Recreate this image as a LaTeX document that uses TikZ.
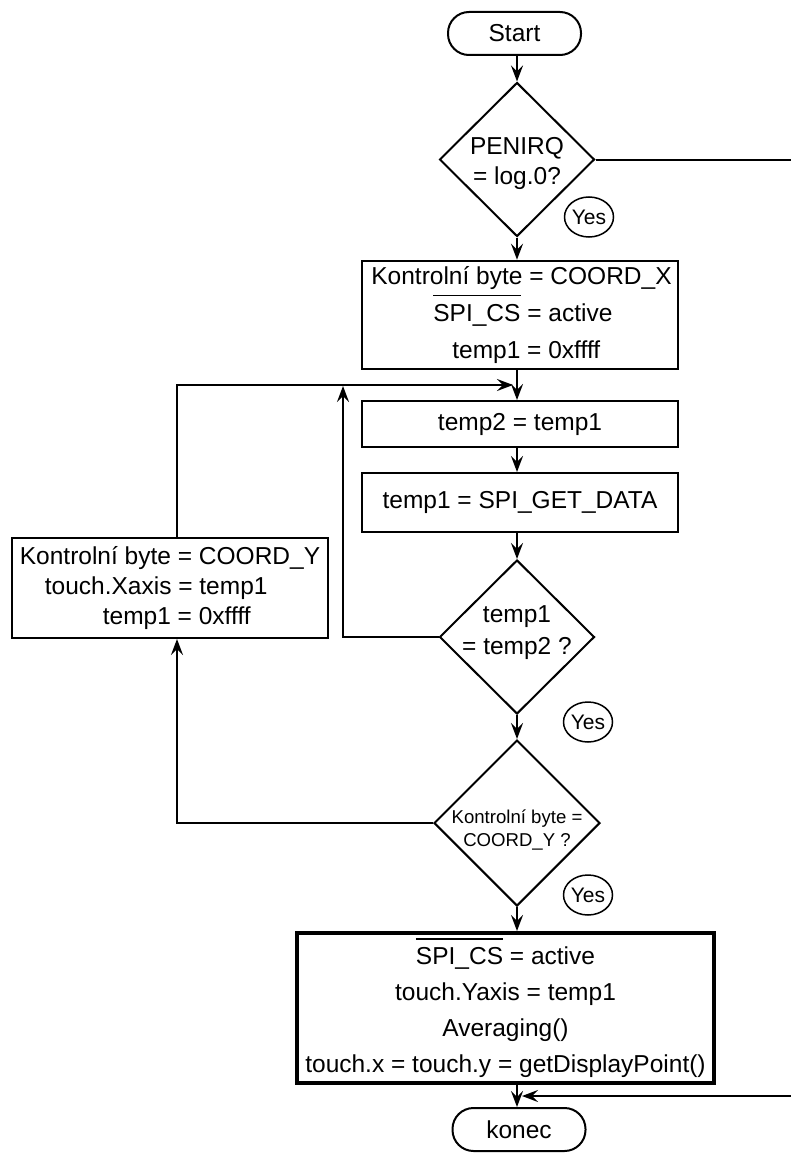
\documentclass[tikz,border=0pt]{standalone}
\usepackage{fontspec}
\setmainfont{Liberation Sans}
\usetikzlibrary{shapes.geometric,arrows.meta}
\newcommand\ovl[1]{\leavevmode\vbox{\hrule height 1.6pt \kern 8pt \hbox{#1}}}
\begin{document}
\begin{tikzpicture}[x=1pt,y=-1pt,
  every node/.style={font=\fontsize{24.5}{29.4}\selectfont, inner sep=0pt},
  ln/.style={line width=2pt},
  arr/.style={line width=2pt,-{Stealth[length=16pt,width=12pt,inset=6pt]}},
  proc/.style={draw,line width=2pt,rectangle,minimum width=316pt,align=left},
  dec/.style={draw,line width=2pt,shape=diamond,minimum width=155pt,minimum height=154pt},
  term/.style={draw,line width=2pt,rounded corners=21pt,minimum width=133pt,minimum height=43pt},
  yes/.style={draw,line width=1.5pt,ellipse,minimum width=49pt,minimum height=40pt,font=\fontsize{21}{24}\selectfont}
]
\useasboundingbox (0,0) rectangle (791,1153);
\coordinate (col) at (517,0);

\node[term] (start) at (514.5,33.5) {Start};
\node[dec,label={[yshift=-4pt,align=center,font=\fontsize{24.5}{30}\selectfont]center:PENIRQ\\= log.0?}] (d1) at (517,159.5) {};
\node[yes] (y1) at (589,217) {Yes};

\node[proc,line width=2.6pt,minimum height=108pt,font=\fontsize{24.5}{37}\selectfont] (b1) at (520,315)
  {\hspace*{3pt}Kontrolní byte = COORD\_X\\\hspace*{65pt}\ovl{SPI\_CS} = active\\\hspace*{84pt}temp1 = 0xffff};
\node[proc,minimum height=46pt,align=center] (b2) at (520,424) {temp2 = temp1};
\node[proc,minimum height=59pt,align=center] (b3) at (520,502.5) {temp1 = SPI\_GET\_DATA};

\node[dec,label={[yshift=4pt,align=center,font=\fontsize{24.5}{32}\selectfont]center:temp1\\= temp2 ?}] (d2) at (517,637) {};
\node[yes] (y2) at (588,722) {Yes};

\node[dec,minimum width=166pt,minimum height=166pt,label={[yshift=-6.5pt,align=center,font=\fontsize{18.6}{23}\selectfont]center:Kontrolní byte =\\COORD\_Y ?}] (d3) at (517,823) {};
\node[yes] (y3) at (588,895) {Yes};

\node[proc,minimum height=100pt,font=\fontsize{24.5}{30}\selectfont] (lb) at (170,588)
  {Kontrolní byte = COORD\_Y\\\hspace*{25pt}touch.Xaxis = temp1\\\hspace*{83pt}temp1 = 0xffff};

\node[proc,line width=4pt,minimum width=417pt,minimum height=150pt,align=center,font=\fontsize{24.5}{36}\selectfont] (b4) at (505.5,1008)
  {\ovl{SPI\_CS} = active\\touch.Yaxis = temp1\\Averaging()\\touch.x = touch.y = getDisplayPoint()};

\node[term] (konec) at (519,1129.5) {konec};

\coordinate (j1) at (522,1096);
\coordinate (m1) at (513,385);
\coordinate (m2) at (343,386);

\draw[arr] (start.south -| col) -- (d1.north);
\draw[arr] (d1.south) -- (b1.north -| col);
\draw[arr] (b1.south -| col) -- (b2.north -| col);
\draw[arr] (b2.south -| col) -- (b3.north -| col);
\draw[arr] (b3.south -| col) -- (d2.north);
\draw[arr] (d2.south) -- (d3.north);
\draw[arr] (d3.south) -- (b4.north -| col);
\draw[arr] (b4.south -| col) -- (konec.north -| col);

\draw[arr] (d2.west) -| (m2);
\draw[arr] ([xshift=7pt]lb.north) |- (m1);
\draw[arr] (d3.west) -| ([xshift=7pt]lb.south);
\draw[arr] (d1.east) -- ++(300,0) |- (j1);
\end{tikzpicture}
\end{document}
